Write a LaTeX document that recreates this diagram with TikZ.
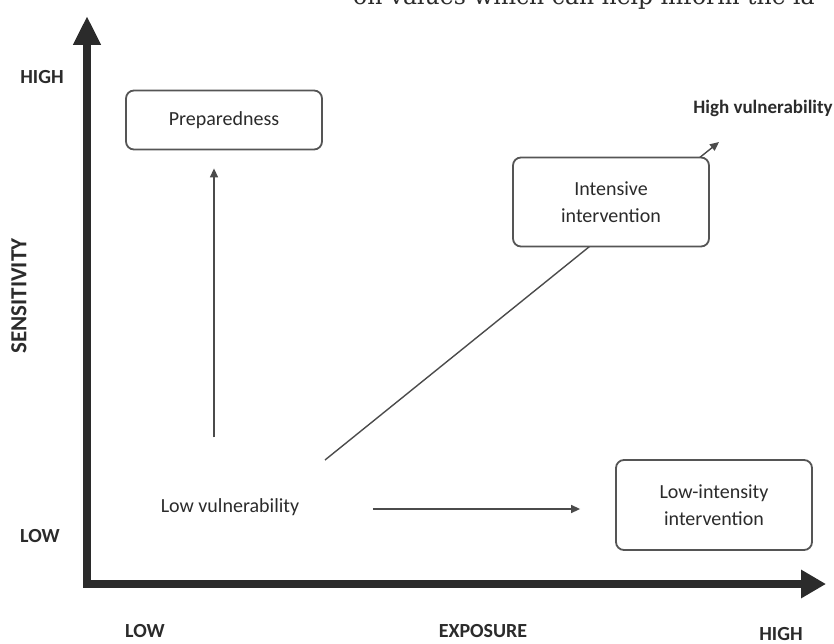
\documentclass[tikz,border=0pt]{standalone}
\usepackage{fontspec}
\setmainfont{Carlito}
\newfontfamily\leadserif{DejaVu Serif}
\usetikzlibrary{arrows.meta,backgrounds,calc}
\definecolor{ink}{HTML}{2B2B2B}
\definecolor{rim}{HTML}{555555}
\tikzset{
  box/.style={draw=rim, line width=1.8pt, rounded corners=8pt, fill=white,
    align=center, text=ink, minimum width=196pt, font=\fontsize{20}{27}\selectfont},
  lbl/.style={text=ink, font=\fontsize{20}{24}\selectfont},
  axlbl/.style={text=ink, font=\bfseries\fontsize{20}{24}\selectfont},
  axis/.style={line width=8pt, draw=ink,
    {Triangle[length=29pt, width=26pt]}-{Triangle[length=25pt, width=27pt]}},
  flow/.style={line width=1.4pt, draw=ink!85, -{Triangle[length=9pt, width=8pt]}},
}

\begin{document}
\begin{tikzpicture}[x=1pt, y=-1pt]
    \clip (0,0) rectangle (834,644);

    % cut-off line of the page text above the figure
    \node[anchor=base west, inner sep=0pt, text=ink, font=\leadserif\fontsize{23.5}{28}\selectfont]
      (lead) at (353,5) {on values which can help inform the la};

    % axes
    \coordinate (ytop) at (87,16);
    \coordinate (o) at (87,584);
    \coordinate (xend) at (826,584);
    \draw[axis] (ytop) -- (o) -- (xend);

    \node[axlbl] (yhigh) at (42,77) {HIGH};
    \node[axlbl] (ylow) at (40,536) {LOW};
    \node[axlbl, rotate=90, font=\bfseries\fontsize{23}{26}\selectfont] (sens) at (19,296) {SENSITIVITY};
    \node[axlbl] (xlow) at (145,631) {LOW};
    \node[axlbl] (expo) at (483,631) {EXPOSURE};
    \node[axlbl] (xhigh) at (781,634) {HIGH};

    % boxes and labels
    \node[box, minimum height=59pt] (prep) at (224,120) {Preparedness};
    \node[box, minimum height=89pt] (intens) at (611,202) {Intensive\\intervention};
    \node[box, minimum height=90pt] (lowint) at (714,505) {Low-intensity\\intervention};
    \node[lbl] (lowvul) at (230,507) {Low vulnerability};
    \node[lbl, font=\bfseries\fontsize{19}{24}\selectfont] (highvul) at (763,108) {High vulnerability};

    \coordinate (diagfoot) at (325,460);
    \coordinate (diagtip) at (719,142);

    \draw[flow] ($(prep.south)+(-10,287)$) -- ($(prep.south)+(-10,18)$);
    \draw[flow] ($(lowvul.east)+(70,2)$) -- ($(lowint.west)+(-35,4)$);
    \begin{scope}[on background layer]
      \draw[flow] (diagfoot) -- (diagtip);
    \end{scope}
  \end{tikzpicture}
\end{document}
